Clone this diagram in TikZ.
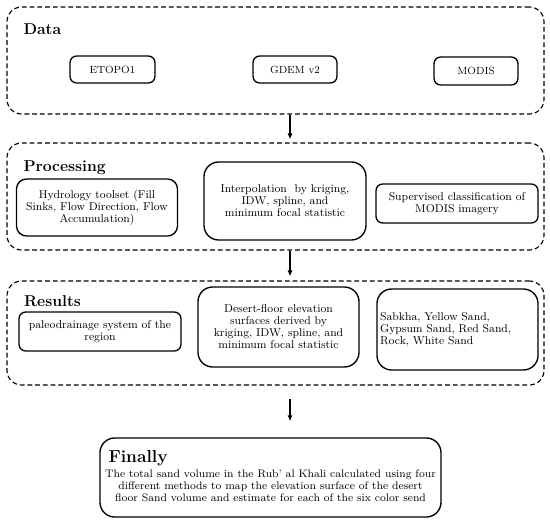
\documentclass[tikz,border=0pt]{standalone}
\usepackage{amsmath}
\usepackage{tikz}
\usetikzlibrary{arrows.meta}

\begin{document}
\begin{tikzpicture}[x = 0.75pt, y = -0.75pt, line width = 0.8pt,
                        >={Latex[length=4.5pt,width=3.8pt]},
                        group/.style = {draw, line width = 0.85pt, dash pattern = on 3.6pt off 2.2pt, rounded corners = 11pt, minimum width = 402.75pt},
                        tool/.style = {draw, line width = 1pt, rounded corners = 5pt, align = center, inner sep = 1pt, font = \fontsize{8.5}{9}\selectfont},
                        head/.style = {anchor = base west, inner sep = 0pt, font = \fontsize{11.8}{14}\selectfont\bfseries}]
    \useasboundingbox (0, 0) rectangle (550, 524);
    % the three stages and the last box
    \node [group, minimum height = 80.25pt] (data) at (275.5, 60.5) {};
    \node [group, minimum height = 80.25pt] (proc) at (275.5, 196.5) {};
    \node [group, minimum height = 78pt] (res) at (275.5, 333) {};
    \node [draw, line width = 1pt, rounded corners = 11pt, minimum width = 255.75pt, minimum height = 59.25pt] (fin) at (270.5, 477.5) {};
    \node [head] (datahead) at (23, 35) {Data};
    \node [head] (prochead) at (23, 172) {Processing};
    \node [head] (reshead) at (23.5, 306) {Results};
    \node [head, font = \fontsize{13}{15}\selectfont\bfseries] (finhead) at (108, 462) {Finally};
    % data
    \node [tool, font = \fontsize{7.8}{9}\selectfont, minimum width = 63.75pt, minimum height = 20.25pt] (etopo) at (112.5, 69.5) {ETOPO1};
    \node [tool, font = \fontsize{7.8}{9}\selectfont, minimum width = 63pt, minimum height = 20.25pt] (gdem) at (295, 69.5) {GDEM v2};
    \node [tool, font = \fontsize{7.8}{9}\selectfont, minimum width = 63pt, minimum height = 21pt] (modis) at (476, 71) {MODIS};
    % processing
    \node [tool, rounded corners = 7.5pt, minimum width = 120.75pt, minimum height = 42.75pt] (hydro) at (97, 207.5) {Hydrology toolset (Fill\\Sinks, Flow Direction, Flow\\Accumulation)};
    \node [tool, rounded corners = 11pt, minimum width = 121.5pt, minimum height = 58.5pt] (interp) at (285, 201) {Interpolation\ \ by kriging,\\IDW, spline, and\\minimum focal statistic};
    \node [tool, minimum width = 121.5pt, minimum height = 29.25pt] (classif) at (457, 203.5) {Supervised classification of\\MODIS imagery};
    % results
    \node [tool, minimum width = 121.5pt, minimum height = 29.25pt] (paleo) at (100, 331.5) {paleodrainage system of the\\region};
    \node [tool, rounded corners = 11pt, minimum width = 120.75pt, minimum height = 60pt] (floor) at (278.5, 327) {Desert-floor elevation\\surfaces derived by\\kriging, IDW, spline, and\\minimum focal statistic};
    \node [tool, rounded corners = 11pt, align = left, text width = 116pt, inner xsep = 2.4pt, minimum height = 60.75pt] (sand) at (457.5, 329.5) {Sabkha, Yellow Sand,\\Gypsum Sand, Red Sand,\\Rock, White Sand};
    \node [align = center, inner sep = 0pt, font = \fontsize{8.2}{9}\selectfont] (volume) at (270.5, 486) {The total sand volume in the Rub’ al Khali calculated using four\\different methods to map the elevation surface of the desert\\floor Sand volume and estimate for each of the six color send};
    % arrows
    \coordinate (flow) at (290, 0);
    \draw [->, shorten > = 2.25pt] (flow |- data.south) -- (flow |- proc.north);
    \draw [->, shorten > = 3pt] (flow |- proc.south) -- (flow |- res.north);
    \draw [->, shorten < = 9.75pt, shorten > = 12pt] (flow |- res.south) -- (flow |- fin.north);
\end{tikzpicture}
\end{document}
